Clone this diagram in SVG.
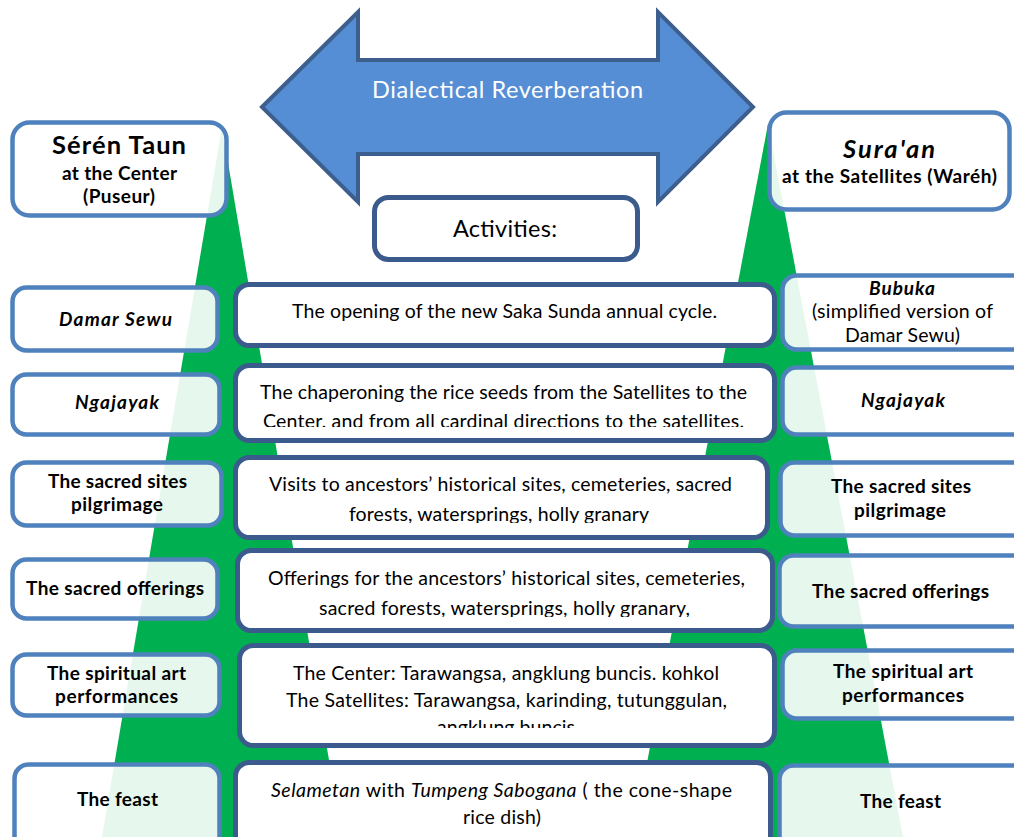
<svg xmlns="http://www.w3.org/2000/svg" width="1014" height="837" viewBox="0 0 1014 837">
<style>
text{font-family:Lato,"Open Sans","Liberation Sans",sans-serif;fill:#000;text-anchor:middle}
.side{fill:#fff;fill-opacity:0.9;stroke:#4f81bd;stroke-width:4.5}
.mid{fill:#fff;stroke:#3b5b8c;stroke-width:5}
.tri{fill:#00b050}
.lb{font-weight:bold;font-size:19px}
.lbi{font-weight:bold;font-style:italic;font-size:19px}
.m{font-size:19.5px}
.ital{font-style:italic}
</style>
<defs>
<clipPath id="c2"><rect x="240" y="368" width="530" height="59"/></clipPath>
<clipPath id="c3"><rect x="240" y="460" width="525" height="63"/></clipPath>
<clipPath id="c4"><rect x="240" y="553" width="530" height="64"/></clipPath>
<clipPath id="c5"><rect x="242" y="648" width="530" height="80"/></clipPath>
</defs>
<rect width="1014" height="837" fill="#fff"/>
<g id="triangles">
<polygon class="tri" points="222,127 102,837 342,837"/>
<polygon class="tri" points="768,124 633,837 903,837"/>
</g>
<g id="arrow">
<polygon points="262,107 358,12 358,60 658,60 658,12 753,107 658,202 658,154 358,154 358,202" fill="#558ed5" stroke="#3d5f8e" stroke-width="4" stroke-linejoin="miter"/>
<text x="507.5" y="98" font-size="23.5" style="fill:#fff" textLength="271">Dialectical Reverberation</text>
</g>
<g id="activities">
<rect class="mid" x="374.5" y="197.5" width="263" height="62" rx="14"/>
<text x="505" y="237" font-size="23.5" textLength="104">Activities:</text>
</g>
<g id="seren-taun">
<rect class="side" x="12.5" y="122.5" width="214" height="93" rx="17"/>
<text x="119" y="154" font-size="25.5" font-weight="bold" textLength="134">Sérén Taun</text>
<text class="lb" x="119.5" y="180" textLength="115">at the Center</text>
<text class="lb" x="119" y="203" textLength="72">(Puseur)</text>
</g>
<g id="suraan">
<rect class="side" x="769.5" y="112.5" width="240" height="97" rx="17"/>
<text x="889" y="158" font-size="25.5" font-weight="bold" font-style="italic" textLength="92">Sura'an</text>
<text class="lb" x="889.5" y="183" textLength="215">at the Satellites (Waréh)</text>
</g>
<g id="left-damar-sewu">
<rect class="side" x="12.5" y="287.5" width="205" height="63" rx="14"/>
<text class="lbi" x="115.5" y="326" textLength="113">Damar Sewu</text>
</g>
<g id="left-ngajayak">
<rect class="side" x="12.5" y="374.5" width="207" height="60" rx="14"/>
<text class="lbi" x="117" y="409" textLength="84">Ngajayak</text>
</g>
<g id="left-pilgrimage">
<rect class="side" x="12.5" y="462.5" width="209" height="63" rx="14"/>
<text class="lb" x="117.5" y="488" textLength="139">The sacred sites</text>
<text class="lb" x="117" y="511" textLength="92">pilgrimage</text>
</g>
<g id="left-offerings">
<rect class="side" x="12.5" y="559.5" width="205" height="59" rx="14"/>
<text class="lb" x="115" y="595" textLength="178">The sacred offerings</text>
</g>
<g id="left-art">
<rect class="side" x="12.5" y="654.5" width="207" height="61" rx="14"/>
<text class="lb" x="116.5" y="680" textLength="139">The spiritual art</text>
<text class="lb" x="116.5" y="703" textLength="123">performances</text>
</g>
<g id="left-feast">
<rect class="side" x="14.5" y="764.5" width="205" height="90" rx="14"/>
<text class="lb" x="117.5" y="806" textLength="81">The feast</text>
</g>
<g id="mid-opening">
<rect class="mid" x="235.5" y="284.5" width="539" height="61" rx="14"/>
<text class="m" x="504.5" y="318" textLength="425">The opening of the new Saka Sunda annual cycle.</text>
</g>
<g id="mid-chaperoning">
<rect class="mid" x="235.5" y="365.5" width="539" height="75" rx="14"/>
<g clip-path="url(#c2)">
<text class="m" x="503.5" y="399" textLength="487">The chaperoning the rice seeds from the Satellites to the</text>
<text class="m" x="503.5" y="428" textLength="481">Center, and from all cardinal directions to the satellites.</text>
</g>
</g>
<g id="mid-visits">
<rect class="mid" x="235.5" y="457.5" width="532" height="80" rx="14"/>
<g clip-path="url(#c3)">
<text class="m" x="500.5" y="491" textLength="463">Visits to ancestors’ historical sites, cemeteries, sacred</text>
<text class="m" x="499" y="521" textLength="300">forests, watersprings, holly granary</text>
</g>
</g>
<g id="mid-offerings">
<rect class="mid" x="237.5" y="550.5" width="535" height="80" rx="14"/>
<g clip-path="url(#c4)">
<text class="m" x="506.5" y="585" textLength="477">Offerings for the ancestors’ historical sites, cemeteries,</text>
<text class="m" x="504.5" y="615" textLength="371">sacred forests, watersprings, holly granary,</text>
</g>
</g>
<g id="mid-art">
<rect class="mid" x="239.5" y="645.5" width="535" height="100" rx="14"/>
<g clip-path="url(#c5)">
<text class="m" x="506" y="680" textLength="426">The Center: Tarawangsa, angklung buncis. kohkol</text>
<text class="m" x="506.5" y="707" textLength="441">The Satellites: Tarawangsa, karinding, tutunggulan,</text>
<text class="m" x="506" y="734" textLength="138">angklung buncis</text>
</g>
</g>
<g id="mid-feast">
<rect class="mid" x="235.5" y="762.5" width="535" height="90" rx="14"/>
<text class="m" x="501.5" y="797" textLength="461"><tspan class="ital">Selametan</tspan> with <tspan class="ital">Tumpeng Sabogana</tspan> ( the cone-shape</text>
<text class="m" x="502" y="824" textLength="78">rice dish)</text>
</g>
<g id="right-bubuka">
<rect class="side" x="782.5" y="275.5" width="250" height="74" rx="14"/>
<text class="lbi" x="902" y="295" textLength="66">Bubuka</text>
<text class="m" x="902.5" y="318" textLength="181">(simplified version of</text>
<text class="m" x="902.5" y="342" textLength="115">Damar Sewu)</text>
</g>
<g id="right-ngajayak">
<rect class="side" x="782.5" y="367.5" width="250" height="67" rx="14"/>
<text class="lbi" x="903" y="407" textLength="84">Ngajayak</text>
</g>
<g id="right-pilgrimage">
<rect class="side" x="780.5" y="462.5" width="250" height="73" rx="14"/>
<text class="lb" x="901" y="493" textLength="140">The sacred sites</text>
<text class="lb" x="900" y="517" textLength="92">pilgrimage</text>
</g>
<g id="right-offerings">
<rect class="side" x="779.5" y="555.5" width="250" height="71" rx="14"/>
<text class="lb" x="900.5" y="598" textLength="177">The sacred offerings</text>
</g>
<g id="right-art">
<rect class="side" x="782.5" y="650.5" width="250" height="68" rx="14"/>
<text class="lb" x="903" y="678" textLength="140">The spiritual art</text>
<text class="lb" x="903" y="702" textLength="122">performances</text>
</g>
<g id="right-feast">
<rect class="side" x="779.5" y="765.5" width="250" height="90" rx="14"/>
<text class="lb" x="900.5" y="808" textLength="81">The feast</text>
</g>
</svg>
